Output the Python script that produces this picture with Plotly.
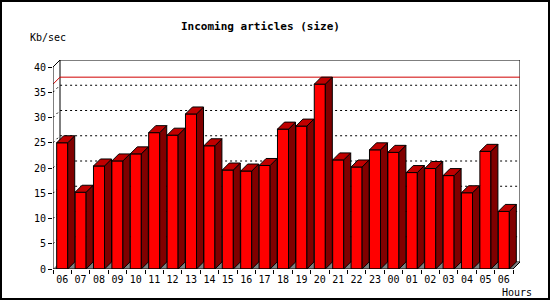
import plotly.graph_objects as go

hours = ["06", "07", "08", "09", "10", "11", "12", "13", "14", "15", "16", "17", "18",
         "19", "20", "21", "22", "23", "00", "01", "02", "03", "04", "05", "06"]
kbsec = [25.0, 15.2, 20.4, 21.4, 22.8, 27.0, 26.5, 30.7, 24.4, 19.6, 19.4, 20.5, 27.7,
         28.3, 36.6, 21.6, 20.2, 23.6, 23.1, 19.1, 19.9, 18.5, 15.1, 23.3, 11.4]
y_ticks = [0, 5, 10, 15, 20, 25, 30, 35, 40]

W, H = 550, 300
ML, MR, MT, MB = 53, 30, 60, 31
PW, PH = W - ML - MR, H - MT - MB
n = len(kbsec)
DEPTH_PX = 7
ymax = y_ticks[-1]
DX = DEPTH_PX * n / (PW - DEPTH_PX)
DY = DEPTH_PX * ymax / (PH - DEPTH_PX)
BW = 0.6
x0, x1 = -0.5, n - 0.5

FRONT, SIDE, TOP = "#ff0000", "#800000", "#c00000"
FONT = "DejaVu Sans Mono"

xs = list(range(n))

# side and top faces computed from the data
side_x, side_y, top_x, top_y = [], [], [], []
for i, v in zip(xs, kbsec):
    r = i + BW / 2
    l = i - BW / 2
    side_x += [r, r + DX, r + DX, r, r, None]
    side_y += [0, DY, v + DY, v, 0, None]
    top_x += [l, l + DX, r + DX, r, l, None]
    top_y += [v, v + DY, v + DY, v, v, None]

fig = go.Figure()
fig.add_trace(go.Bar(x=xs, y=kbsec, width=BW, marker=dict(color=FRONT, line=dict(color="black", width=1)),
                     hoverinfo="skip", showlegend=False))
fig.add_trace(go.Scatter(x=side_x, y=side_y, mode="lines", fill="toself", fillcolor=SIDE,
                         line=dict(color="black", width=1), hoverinfo="skip", showlegend=False))
fig.add_trace(go.Scatter(x=top_x, y=top_y, mode="lines", fill="toself", fillcolor=TOP,
                         line=dict(color="black", width=1), hoverinfo="skip", showlegend=False))

shapes = []
# back wall
shapes.append(dict(type="rect", x0=x0 + DX, x1=x1 + DX, y0=DY, y1=ymax + DY, layer="below",
                   line=dict(color="black", width=1), fillcolor="white"))
# dotted grid on left wall and back wall
for v in y_ticks[1:-1]:
    shapes.append(dict(type="path", layer="below",
                       path=f"M {x0},{v} L {x0 + DX},{v + DY} L {x1 + DX},{v + DY}",
                       line=dict(color="black", width=1, dash="2px,3px")))
# max line
vm = max(kbsec)
shapes.append(dict(type="path", layer="below",
                   path=f"M {x0},{vm} L {x0 + DX},{vm + DY} L {x1 + DX},{vm + DY}",
                   line=dict(color="#d00000", width=1)))
# floor
shapes.append(dict(type="path", layer="below",
                   path=f"M {x0},0 L {x0 + DX},{DY} L {x1 + DX},{DY} L {x1},0 Z",
                   fillcolor="#808080", line=dict(color="#808080", width=0)))
# front axes & connectors
shapes.append(dict(type="line", x0=x0, x1=x0, y0=0, y1=ymax, line=dict(color="black", width=1)))
shapes.append(dict(type="line", x0=x0, x1=x1, y0=0, y1=0, line=dict(color="black", width=1)))
shapes.append(dict(type="line", x0=x0, x1=x0 + DX, y0=ymax, y1=ymax + DY, line=dict(color="black", width=1)))
shapes.append(dict(type="line", x0=x1, x1=x1 + DX, y0=0, y1=DY, line=dict(color="black", width=1)))
# image frame
shapes.append(dict(type="rect", xref="paper", yref="paper",
                   x0=(1 - ML) / PW, x1=(W - 1 - ML) / PW,
                   y0=-(MB - 1) / PH, y1=1 + (MT - 1) / PH,
                   line=dict(color="black", width=2), fillcolor="rgba(0,0,0,0)"))

fig.update_layout(
    width=W, height=H,
    margin=dict(l=ML, r=MR, t=MT, b=MB, pad=0),
    paper_bgcolor="white", plot_bgcolor="white",
    font=dict(family=FONT, size=10, color="black"),
    showlegend=False,
    shapes=shapes,
    xaxis=dict(range=[x0, x1 + DX], tickvals=xs, ticktext=hours, ticks="",
               showgrid=False, zeroline=False, showline=False,
               minor=dict(tickvals=[i - 0.5 for i in range(n + 1)], ticks="outside", ticklen=4,
                          tickcolor="black", showgrid=False),
               tickfont=dict(family=FONT, size=10), ticklabelstandoff=3, fixedrange=True),
    yaxis=dict(range=[0, ymax + DY], tickvals=y_ticks, ticks="outside", ticklen=4, tickcolor="black",
               showgrid=False, zeroline=False, showline=False,
               tickfont=dict(family=FONT, size=10), fixedrange=True),
    annotations=[
        dict(text="<b>Incoming articles (size)</b>", xref="paper", yref="paper",
             x=(260 - ML) / PW, y=1 + (MT - 27) / PH, xanchor="center", yanchor="middle",
             showarrow=False, font=dict(family=FONT, size=11)),
        dict(text="Kb/sec", xref="paper", yref="paper",
             x=(28 - ML) / PW, y=1 + (MT - 37) / PH, xanchor="left", yanchor="middle",
             showarrow=False, font=dict(family=FONT, size=10)),
        dict(text="Hours", xref="paper", yref="paper",
             x=(534 - ML) / PW, y=-(292 - (H - MB)) / PH, xanchor="right", yanchor="middle",
             showarrow=False, font=dict(family=FONT, size=10)),
    ],
)

fig.write_html("out.html")
